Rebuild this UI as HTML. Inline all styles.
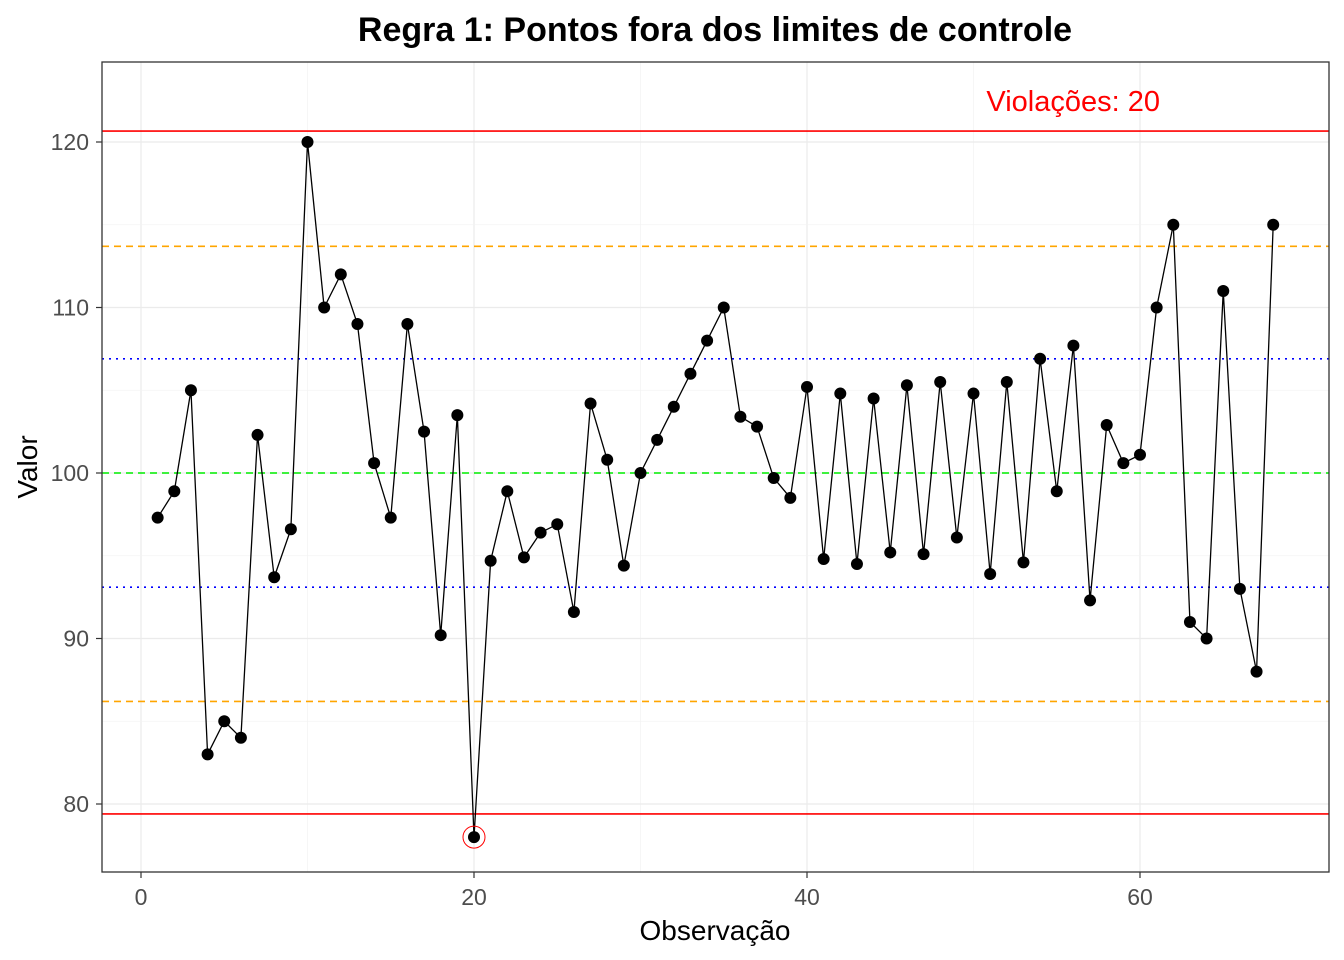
<!DOCTYPE html>
<html><head><meta charset="utf-8"><style>
html,body{margin:0;padding:0;background:#fff;}
svg{display:block;font-family:"Liberation Sans",Arial,sans-serif;}
</style></head><body>
<svg id="chart" width="1344" height="960">
<text x="715" y="41" text-anchor="middle" font-size="34" font-weight="bold">Regra 1: Pontos fora dos limites de controle</text>
<g id="grid"></g><g id="lines"></g><g id="series"></g><g id="axes"></g>
<text x="715" y="940" text-anchor="middle" font-size="28">Observação</text>
<text transform="translate(37,467) rotate(-90)" text-anchor="middle" font-size="28">Valor</text>
<text x="1160" y="111" text-anchor="end" font-size="29" fill="#ff0000">Violações: 20</text>
</svg>
<script>
const values=[97.3,98.9,105,83,85,84,102.3,93.7,96.6,120,110,112,109,100.6,97.3,109,102.5,90.2,103.5,78,94.7,98.9,94.9,96.4,96.9,91.6,104.2,100.8,94.4,100,102,104,106,108,110,103.4,102.8,99.7,98.5,105.2,94.8,104.8,94.5,104.5,95.2,105.3,95.1,105.5,96.1,104.8,93.9,105.5,94.6,106.9,98.9,107.7,92.3,102.9,100.6,101.1,110,115,91,90,111,93,88,115];
const xTicks=[0,20,40,60];
const yTicks=[80,90,100,110,120];
const limitValues=[120.66,79.4];
const twoSigmaValues=[113.7,86.2];
const oneSigmaValues=[106.9,93.1];
const centerValue=[100];
const ns="http://www.w3.org/2000/svg";
const L=102,R=1329,T=62,B=872;
const xs=v=>141+(v)*16.65;
const ys=v=>473-(v-100)*16.55;
function mk(tag,attrs,parent){const e=document.createElementNS(ns,tag);for(const k in attrs)e.setAttribute(k,attrs[k]);document.getElementById(parent).appendChild(e);return e;}
xTicks.forEach(t=>{const e=mk('line',{x1:xs(t),x2:xs(t),y1:T,y2:B,stroke:'#ebebeb','stroke-width':1.2},'grid');

});
[10,30,50].forEach(t=>{const e=mk('line',{x1:xs(t),x2:xs(t),y1:T,y2:B,stroke:'#f3f3f3','stroke-width':0.7},'grid');

});
yTicks.forEach(t=>{const e=mk('line',{x1:L,x2:R,y1:ys(t),y2:ys(t),stroke:'#ebebeb','stroke-width':1.2},'grid');

});
[85,95,105,115].forEach(t=>{const e=mk('line',{x1:L,x2:R,y1:ys(t),y2:ys(t),stroke:'#f3f3f3','stroke-width':0.7},'grid');

});
function ref(v,color,dash,name){const e=mk('line',{x1:L,x2:R,y1:ys(v),y2:ys(v),stroke:color,'stroke-width':1.6},'lines');if(dash)e.setAttribute('stroke-dasharray',dash);

}
limitValues.forEach(v=>ref(v,'#ff0000',null,'control-limit-line'));
twoSigmaValues.forEach(v=>ref(v,'#ffa500','7,5','two-sigma-line'));
oneSigmaValues.forEach(v=>ref(v,'#0000ff','2,5','one-sigma-line'));
centerValue.forEach(v=>ref(v,'#00ee00','7,5','center-line'));
const pts=values.map((v,i)=>xs(i+1)+','+ys(v)).join(' ');
const pl=mk('polyline',{points:pts,fill:'none',stroke:'#000','stroke-width':1.3},'series');


values.forEach((v,i)=>{const c=mk('circle',{cx:xs(i+1),cy:ys(v),r:6,fill:'#000'},'series');


if(v>limitValues[0]||v<limitValues[1]){const o=mk('circle',{cx:xs(i+1),cy:ys(v),r:11,fill:'none',stroke:'#ff0000','stroke-width':1},'series');

}});
const f=mk('rect',{x:L,y:T,width:R-L,height:B-T,fill:'none',stroke:'#333','stroke-width':1.3},'axes');


xTicks.forEach(t=>{mk('line',{x1:xs(t),x2:xs(t),y1:B,y2:B+6,stroke:'#333','stroke-width':1.2},'axes');
const e=mk('text',{x:xs(t),y:B+33,'text-anchor':'middle','font-size':23,fill:'#4d4d4d'},'axes');e.textContent=t;

});
yTicks.forEach(t=>{mk('line',{x1:L-6,x2:L,y1:ys(t),y2:ys(t),stroke:'#333','stroke-width':1.2},'axes');
const e=mk('text',{x:L-13,y:ys(t)+8,'text-anchor':'end','font-size':23,fill:'#4d4d4d'},'axes');e.textContent=t;

});
</script>
</body></html>
